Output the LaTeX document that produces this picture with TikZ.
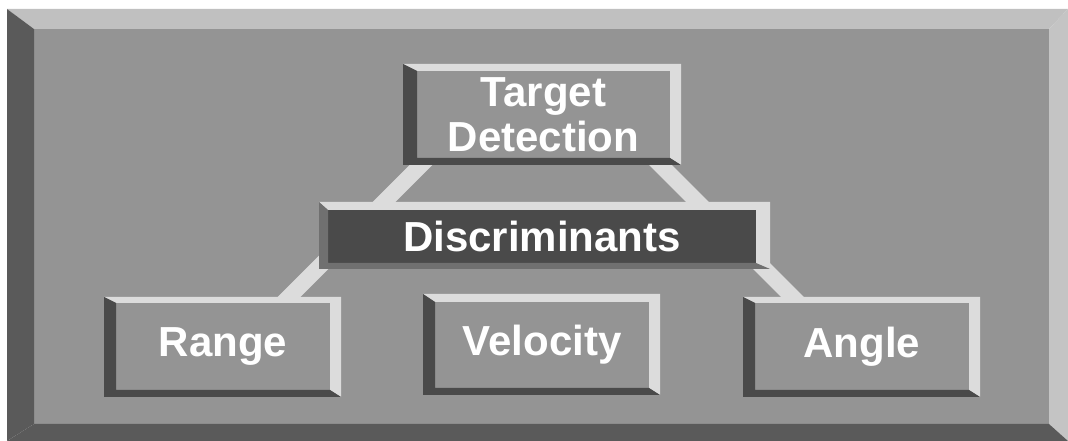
\documentclass[tikz,border=0pt]{standalone}
\usepackage{fontspec}
\setmainfont{Liberation Sans}
\usepackage{xcolor}
\usetikzlibrary{calc}

\definecolor{panelface}{RGB}{148,148,148}
\definecolor{paneltop}{RGB}{192,192,192}
\definecolor{panelright}{RGB}{196,196,196}
\definecolor{paneldark}{RGB}{90,90,90}
\definecolor{bevellight}{RGB}{220,220,220}
\definecolor{beveldark}{RGB}{74,74,74}
\definecolor{discside}{RGB}{112,112,112}

\pgfdeclarelayer{back}
\pgfdeclarelayer{wires}
\pgfsetlayers{back,wires,main}

% bevel round a face node: name, left, top, right, bottom, light, dark
\newcommand{\bevel}[7]{%
  \fill[#6] ($(#1.north west)+(-#2,-#3)$) -- ($(#1.north east)+(#4,-#3)$) -- ($(#1.south east)+(#4,#5)$) -- (#1.south east) -- (#1.north east) -- (#1.north west) -- cycle;
  \fill[#7] ($(#1.north west)+(-#2,-#3)$) -- (#1.north west) -- (#1.south west) -- (#1.south east) -- ($(#1.south east)+(#4,#5)$) -- ($(#1.south west)+(-#2,#5)$) -- cycle;
}

\tikzset{
  btn/.style={fill=panelface,inner sep=0pt,outer sep=0pt,text=white,align=center,
    font=\bfseries\fontsize{31.5}{33.75}\selectfont},
  lowbtn/.style={btn,minimum width=214*0.75pt,minimum height=87*0.75pt},
  wire/.style={draw=bevellight,line width=12pt},
}

\begin{document}
\begin{tikzpicture}[x=0.75pt,y=0.75pt,yscale=-1,xscale=1]
\useasboundingbox (0,0) rectangle (1068,441);

\begin{pgfonlayer}{back}
%Shape: Panel face
\fill[panelface] (34,29) rectangle (1049,424);
%Shape: Panel bevels
\fill[paneltop] (7,9) -- (1068,9) -- (1049,29) -- (34,29) -- cycle;
\fill[panelright] (1068,9) -- (1068,441) -- (1049,424) -- (1049,29) -- cycle;
\fill[paneldark] (7,9) -- (34,29) -- (34,424) -- (7,441) -- cycle;
\fill[paneldark] (7,441) -- (34,424) -- (1049,424) -- (1068,441) -- cycle;
\end{pgfonlayer}

% Text Node
\draw (543.5,114.5) node [btn,minimum width=253*0.75pt,minimum height=87*0.75pt] (tgt) {Target\\Detection};
% Text Node
\draw (542,236.5) node [btn,fill=beveldark,minimum width=428*0.75pt,minimum height=53*0.75pt] (disc) {Discriminants};
% Text Node
\draw (223,346.5) node [lowbtn] (rng) {Range};
% Text Node
\draw (542,345) node [lowbtn,minimum height=86*0.75pt] (vel) {Velocity};
% Text Node
\draw (862,346.5) node [lowbtn] (ang) {Angle};

\bevel{tgt}{14}{7}{11}{7}{bevellight}{beveldark}
\bevel{disc}{9}{8}{14}{6}{bevellight}{discside}
\bevel{rng}{12}{6}{11}{7}{bevellight}{beveldark}
\bevel{vel}{12}{8}{11}{7}{bevellight}{beveldark}
\bevel{ang}{12}{6}{11}{7}{bevellight}{beveldark}

\begin{pgfonlayer}{wires}
%Shape: Links behind the boxes
\draw[wire] ($(tgt.south)+(-115.5,0)$) -- ($(rng.north)+(60,0)$);
\draw[wire] ($(tgt.south)+(110,0)$) -- ($(ang.north)+(-63.5,0)$);
\end{pgfonlayer}
\end{tikzpicture}
\end{document}
